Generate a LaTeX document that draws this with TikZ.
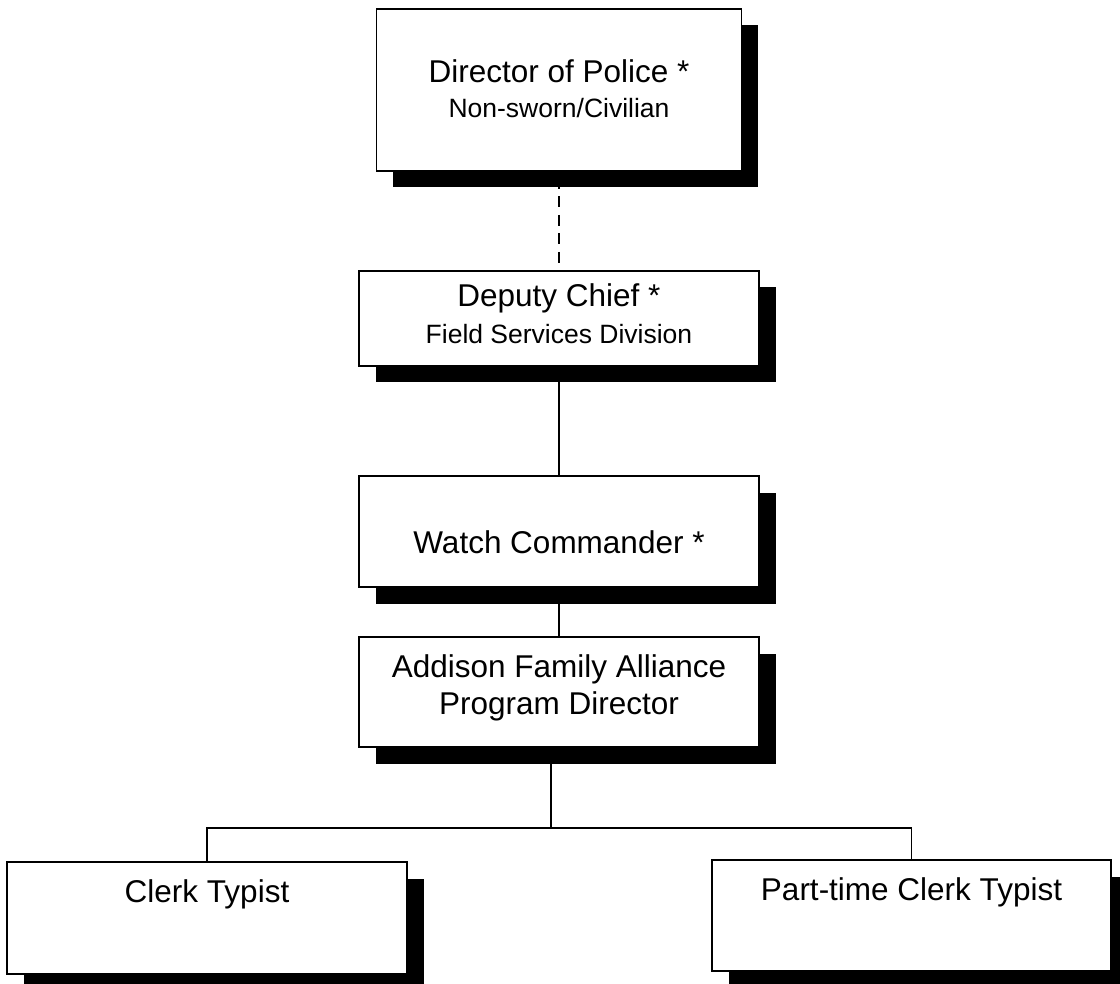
\documentclass[tikz,border=0pt]{standalone}
\usepackage{fontspec}
\setmainfont{Liberation Sans}
\usetikzlibrary{shadows}
\begin{document}
\begin{tikzpicture}[x=1pt,y=-1pt,
  box/.style={draw=black, line width=1.5pt, fill=white, inner sep=0pt, outer sep=0pt,
    anchor=north west, minimum width=400pt,
    drop shadow={shadow xshift=16.5pt, shadow yshift=-16.5pt, opacity=1, fill=black}},
  ttl/.style={font=\fontsize{31.5}{36}\selectfont, inner sep=0pt, anchor=base},
  sub/.style={font=\fontsize{26.5}{31}\selectfont, inner sep=0pt, anchor=base},
  conn/.style={line width=1.5pt},
  dotted link/.style={conn, dash pattern=on 11pt off 7.5pt, dash phase=11.5pt}]
\fill[white] (0,0) rectangle (1120,984);
\useasboundingbox (0,0) rectangle (1120,984);

% boxes
\node[box, minimum width=365pt, minimum height=162pt] (dir) at (376.5,9) {};
\node[box, minimum height=95pt]  (dep) at (359,271) {};
\node[box, minimum height=111pt] (wat) at (359,476) {};
\node[box, minimum height=110pt] (afa) at (359,637) {};
\node[box, minimum height=112pt] (clk) at (7,862) {};
\node[box, minimum width=399pt, minimum height=111pt] (ptc) at (712,860) {};

% titles
\node[ttl] (dirT) at (559,83) {Director of Police *};
\node[sub] (dirS) at (559,118) {Non-sworn/Civilian};
\node[ttl] (depT) at (559,307) {Deputy Chief *};
\node[sub] (depS) at (559,344) {Field Services Division};
\node[ttl] (watT) at (559,553) {Watch Commander *};
\node[ttl] (afaT) at (559,677) {Addison Family Alliance};
\node[ttl] (afaS) at (559,714) {Program Director};
\node[ttl] (clkT) at (207,902) {Clerk Typist};
\node[ttl] (ptcT) at (911.5,900) {Part-time Clerk Typist};

% connectors
\coordinate (bus) at (551,828);
\draw[dotted link] (dir.south) -- (dep.north);
\draw[conn] (dep.south) -- (wat.north);
\draw[conn] (wat.south) -- (afa.north);
\draw[conn] (afa.south -| bus) -- (bus);
\draw[conn] (clk.north) |- (bus) -| (ptc.north);
\end{tikzpicture}
\end{document}
